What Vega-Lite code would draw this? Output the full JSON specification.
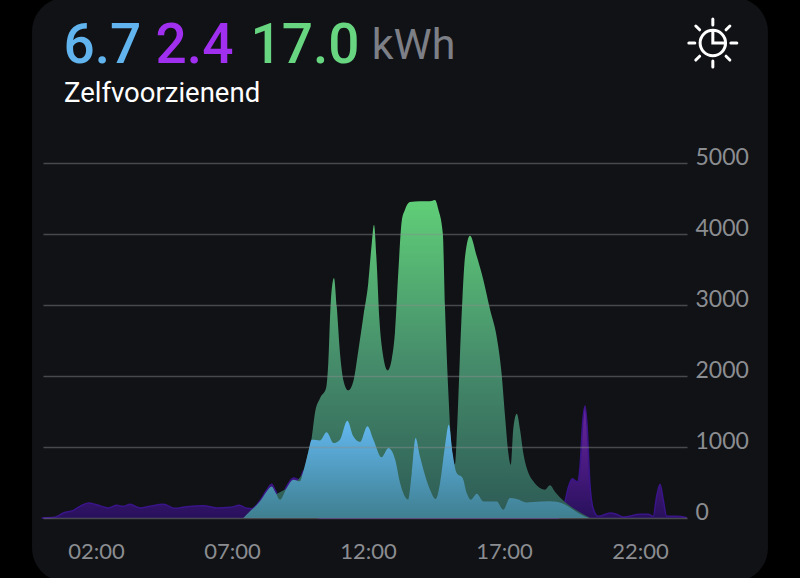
{
  "$schema": "https://vega.github.io/schema/vega-lite/v6.json",
  "width": 644,
  "height": 355,
  "autosize": "none",
  "padding": {"left": 43, "top": 163, "right": 113, "bottom": 60},
  "background": "#000000",
  "config": {"view": {"stroke": null}},
  "datasets": {
    "purple": [
      {"hour":0.0,"watt":0},{"hour":0.49,"watt":9},{"hour":0.8,"watt":70},{"hour":1.17,"watt":108},{"hour":1.41,"watt":164},{"hour":1.72,"watt":211},{"hour":2.02,"watt":188},{"hour":2.45,"watt":141},{"hour":2.76,"watt":178},{"hour":3.0,"watt":164},{"hour":3.25,"watt":192},{"hour":3.62,"watt":141},{"hour":3.98,"watt":164},{"hour":4.48,"watt":192},{"hour":4.9,"watt":136},{"hour":5.33,"watt":160},{"hour":5.95,"watt":174},{"hour":6.44,"watt":141},{"hour":6.93,"watt":150},{"hour":7.27,"watt":178},{"hour":7.54,"watt":136},{"hour":7.72,"watt":130},{"hour":8.03,"watt":245},{"hour":8.275,"watt":390},{"hour":8.46,"watt":475},{"hour":8.58,"watt":395},{"hour":8.77,"watt":275},{"hour":9.01,"watt":445},{"hour":9.26,"watt":565},{"hour":9.5,"watt":535},{"hour":9.62,"watt":660},{"hour":9.8,"watt":300},{"hour":10.2,"watt":0},{"hour":19.0,"watt":0},{"hour":19.24,"watt":225},{"hour":19.37,"watt":437},{"hour":19.51,"watt":554},{"hour":19.7,"watt":507},{"hour":19.8,"watt":742},{"hour":19.89,"watt":1329},{"hour":19.98,"watt":1578},{"hour":20.06,"watt":1282},{"hour":20.16,"watt":484},{"hour":20.28,"watt":131},{"hour":20.47,"watt":23},{"hour":20.9,"watt":70},{"hour":21.14,"watt":52},{"hour":21.39,"watt":14},{"hour":22.0,"watt":52},{"hour":22.31,"watt":52},{"hour":22.49,"watt":23},{"hour":22.61,"watt":296},{"hour":22.74,"watt":474},{"hour":22.86,"watt":249},{"hour":22.98,"watt":23},{"hour":23.35,"watt":23},{"hour":23.72,"watt":5}
    ],
    "green": [
      {"hour":7.42,"watt":0},{"hour":8.5,"watt":300},{"hour":9.62,"watt":633},{"hour":9.81,"watt":938},{"hour":9.93,"watt":1126},{"hour":10.05,"watt":1478},{"hour":10.24,"watt":1690},{"hour":10.46,"watt":1830},{"hour":10.54,"watt":2183},{"hour":10.63,"watt":3028},{"hour":10.75,"watt":3380},{"hour":10.85,"watt":2981},{"hour":10.97,"watt":2323},{"hour":11.09,"watt":1948},{"hour":11.27,"watt":1798},{"hour":11.46,"watt":1924},{"hour":11.65,"watt":2370},{"hour":11.83,"watt":2840},{"hour":12.01,"watt":3309},{"hour":12.14,"watt":3873},{"hour":12.22,"watt":4131},{"hour":12.32,"watt":3591},{"hour":12.42,"watt":2793},{"hour":12.54,"watt":2323},{"hour":12.72,"watt":2079},{"hour":12.87,"watt":2230},{"hour":12.99,"watt":2605},{"hour":13.12,"watt":3497},{"hour":13.24,"watt":4178},{"hour":13.36,"watt":4342},{"hour":13.54,"watt":4450},{"hour":13.91,"watt":4460},{"hour":14.28,"watt":4460},{"hour":14.46,"watt":4478},{"hour":14.59,"watt":4342},{"hour":14.75,"watt":4014},{"hour":14.83,"watt":2981},{"hour":14.95,"watt":1807},{"hour":15.08,"watt":962},{"hour":15.2,"watt":751},{"hour":15.285,"watt":1337},{"hour":15.38,"watt":2276},{"hour":15.47,"watt":3075},{"hour":15.57,"watt":3685},{"hour":15.75,"watt":3976},{"hour":16.0,"watt":3685},{"hour":16.24,"watt":3356},{"hour":16.49,"watt":2934},{"hour":16.73,"watt":2558},{"hour":16.91,"watt":2042},{"hour":17.04,"watt":1431},{"hour":17.16,"watt":915},{"hour":17.25,"watt":751},{"hour":17.34,"watt":1244},{"hour":17.47,"watt":1469},{"hour":17.59,"watt":1244},{"hour":17.71,"watt":915},{"hour":17.9,"watt":633},{"hour":18.08,"watt":516},{"hour":18.32,"watt":422},{"hour":18.51,"watt":399},{"hour":18.69,"watt":460},{"hour":18.88,"watt":366},{"hour":19.24,"watt":225},{"hour":19.67,"watt":108},{"hour":20.1,"watt":14},{"hour":20.16,"watt":0}
    ],
    "blue": [
      {"hour":7.42,"watt":0},{"hour":7.66,"watt":94},{"hour":8.03,"watt":235},{"hour":8.275,"watt":375},{"hour":8.46,"watt":445},{"hour":8.58,"watt":375},{"hour":8.77,"watt":258},{"hour":9.01,"watt":422},{"hour":9.26,"watt":539},{"hour":9.5,"watt":516},{"hour":9.62,"watt":657},{"hour":9.81,"watt":938},{"hour":9.93,"watt":1103},{"hour":10.24,"watt":1093},{"hour":10.48,"watt":1206},{"hour":10.73,"watt":1056},{"hour":10.97,"watt":1103},{"hour":11.24,"watt":1370},{"hour":11.46,"watt":1150},{"hour":11.71,"watt":1070},{"hour":11.98,"watt":1291},{"hour":12.2,"watt":1103},{"hour":12.5,"watt":854},{"hour":12.75,"watt":985},{"hour":13.0,"watt":821},{"hour":13.18,"watt":492},{"hour":13.48,"watt":258},{"hour":13.61,"watt":633},{"hour":13.75,"watt":1126},{"hour":13.91,"watt":868},{"hour":14.28,"watt":398},{"hour":14.49,"watt":267},{"hour":14.65,"watt":492},{"hour":14.83,"watt":1009},{"hour":14.97,"watt":1314},{"hour":15.11,"watt":915},{"hour":15.26,"watt":633},{"hour":15.48,"watt":563},{"hour":15.63,"watt":352},{"hour":15.78,"watt":258},{"hour":16.0,"watt":342},{"hour":16.24,"watt":234},{"hour":16.73,"watt":234},{"hour":16.98,"watt":117},{"hour":17.22,"watt":281},{"hour":17.47,"watt":267},{"hour":17.83,"watt":220},{"hour":18.08,"watt":225},{"hour":18.69,"watt":235},{"hour":19.18,"watt":202},{"hour":19.67,"watt":85},{"hour":20.1,"watt":5},{"hour":20.16,"watt":0}
    ]
  },
  "encoding": {
    "x": {
      "field": "hour",
      "type": "quantitative",
      "title": null,
      "scale": {"domain": [0.05, 23.73], "nice": false, "zero": false},
      "axis": {
        "values": [2, 7, 12, 17, 22],
        "labelExpr": "(datum.value < 10 ? '0' : '') + datum.value + ':00'",
        "grid": false,
        "zindex": 1,
        "domain": false,
        "ticks": false,
        "labelFont": "Lato",
        "labelFontSize": 22,
        "labelColor": "#8b8d91",
        "labelPadding": 23,
        "labelBound": false,
        "labelFlush": false,
        "labelOverlap": false
      }
    },
    "y": {
      "field": "watt",
      "type": "quantitative",
      "title": null,
      "scale": {"domain": [0, 5000], "nice": false},
      "axis": {
        "values": [0, 1000, 2000, 3000, 4000, 5000],
        "format": "d",
        "orient": "right",
        "grid": true,
        "gridColor": "#8b8d91",
        "gridOpacity": 0.45,
        "gridWidth": 1.6,
        "zindex": 1,
        "domain": false,
        "ticks": false,
        "labelFont": "Lato",
        "labelFontSize": 23,
        "labelColor": "#8b8d91",
        "labelPadding": 8,
        "labelOffset": -6,
        "labelBound": false,
        "labelFlush": false,
        "labelOverlap": false
      }
    }
  },
  "layer": [
    {
      "data": {"values": [{"left": -0.353, "right": 26.706, "top": 7330, "bottom": -900}]},
      "mark": {"type": "rect", "color": "#111216", "cornerRadius": 34},
      "encoding": {
        "x": {"field": "left", "type": "quantitative"},
        "x2": {"field": "right"},
        "y": {"field": "top", "type": "quantitative"},
        "y2": {"field": "bottom"}
      }
    },
    {
      "data": {"name": "purple"},
      "mark": {
        "type": "area",
        "interpolate": "monotone",
        "line": {"color": "#3a1489", "strokeWidth": 1.5},
        "color": {
          "gradient": "linear", "x1": 0, "y1": 0, "x2": 0, "y2": 1,
          "stops": [{"offset": 0, "color": "#8f2dd6"}, {"offset": 0.6, "color": "#5a1ca6"}, {"offset": 1, "color": "#32107a"}]
        }
      }
    },
    {
      "data": {"name": "green"},
      "mark": {
        "type": "area",
        "interpolate": "monotone",
        "color": {
          "gradient": "linear", "x1": 0, "y1": 0, "x2": 0, "y2": 1,
          "stops": [{"offset": 0, "color": "#60cf78"}, {"offset": 0.5, "color": "#468d6b"}, {"offset": 1, "color": "#2d5a55"}]
        }
      }
    },
    {
      "data": {"name": "blue"},
      "mark": {
        "type": "area",
        "interpolate": "monotone",
        "color": {
          "gradient": "linear", "x1": 0, "y1": 0, "x2": 0, "y2": 1,
          "stops": [{"offset": 0, "color": "#63b8f0"}, {"offset": 1, "color": "#3f7f90"}]
        }
      }
    },
    {
      "data": {"values": [{"hour": 0.8, "watt": 6650}]},
      "mark": {"type": "text", "text": "6.7", "align": "left", "baseline": "middle", "font": "Roboto", "fontWeight": 500, "fontSize": 55, "color": "#62b4ee"}
    },
    {
      "data": {"values": [{"hour": 4.19, "watt": 6650}]},
      "mark": {"type": "text", "text": "2.4", "align": "left", "baseline": "middle", "font": "Roboto", "fontWeight": 500, "fontSize": 55, "color": "#a02ff0"}
    },
    {
      "data": {"values": [{"hour": 7.68, "watt": 6650}]},
      "mark": {"type": "text", "text": "17.0", "align": "left", "baseline": "middle", "font": "Roboto", "fontWeight": 500, "fontSize": 55, "color": "#68d681"}
    },
    {
      "data": {"values": [{"hour": 12.14, "watt": 6650}]},
      "mark": {"type": "text", "text": "kWh", "align": "left", "baseline": "middle", "font": "Roboto", "fontSize": 43, "color": "#7d7f86"}
    },
    {
      "data": {"values": [{"hour": 0.82, "watt": 5972}]},
      "mark": {"type": "text", "text": "Zelfvoorzienend", "align": "left", "baseline": "middle", "font": "Roboto", "fontSize": 27.5, "color": "#ffffff"}
    },
    {
      "data": {"values": [{"hour": 24.68, "watt": 6690}]},
      "mark": {
        "type": "point",
        "shape": "M.53,0A.53,.53 0 1,1 -.53,0A.53,.53 0 1,1 .53,0M0,-.53V0H.53M0,-1V-.75M0,.75V1M-1,0H-.75M.75,0H1M-.71,-.71L-.55,-.55M.71,-.71L.55,-.55M-.71,.71L-.55,.55M.71,.71L.55,.55",
        "size": 2304,
        "filled": false,
        "stroke": "#ffffff",
        "strokeWidth": 3,
        "strokeCap": "round",
        "opacity": 1
      }
    }
  ]
}
